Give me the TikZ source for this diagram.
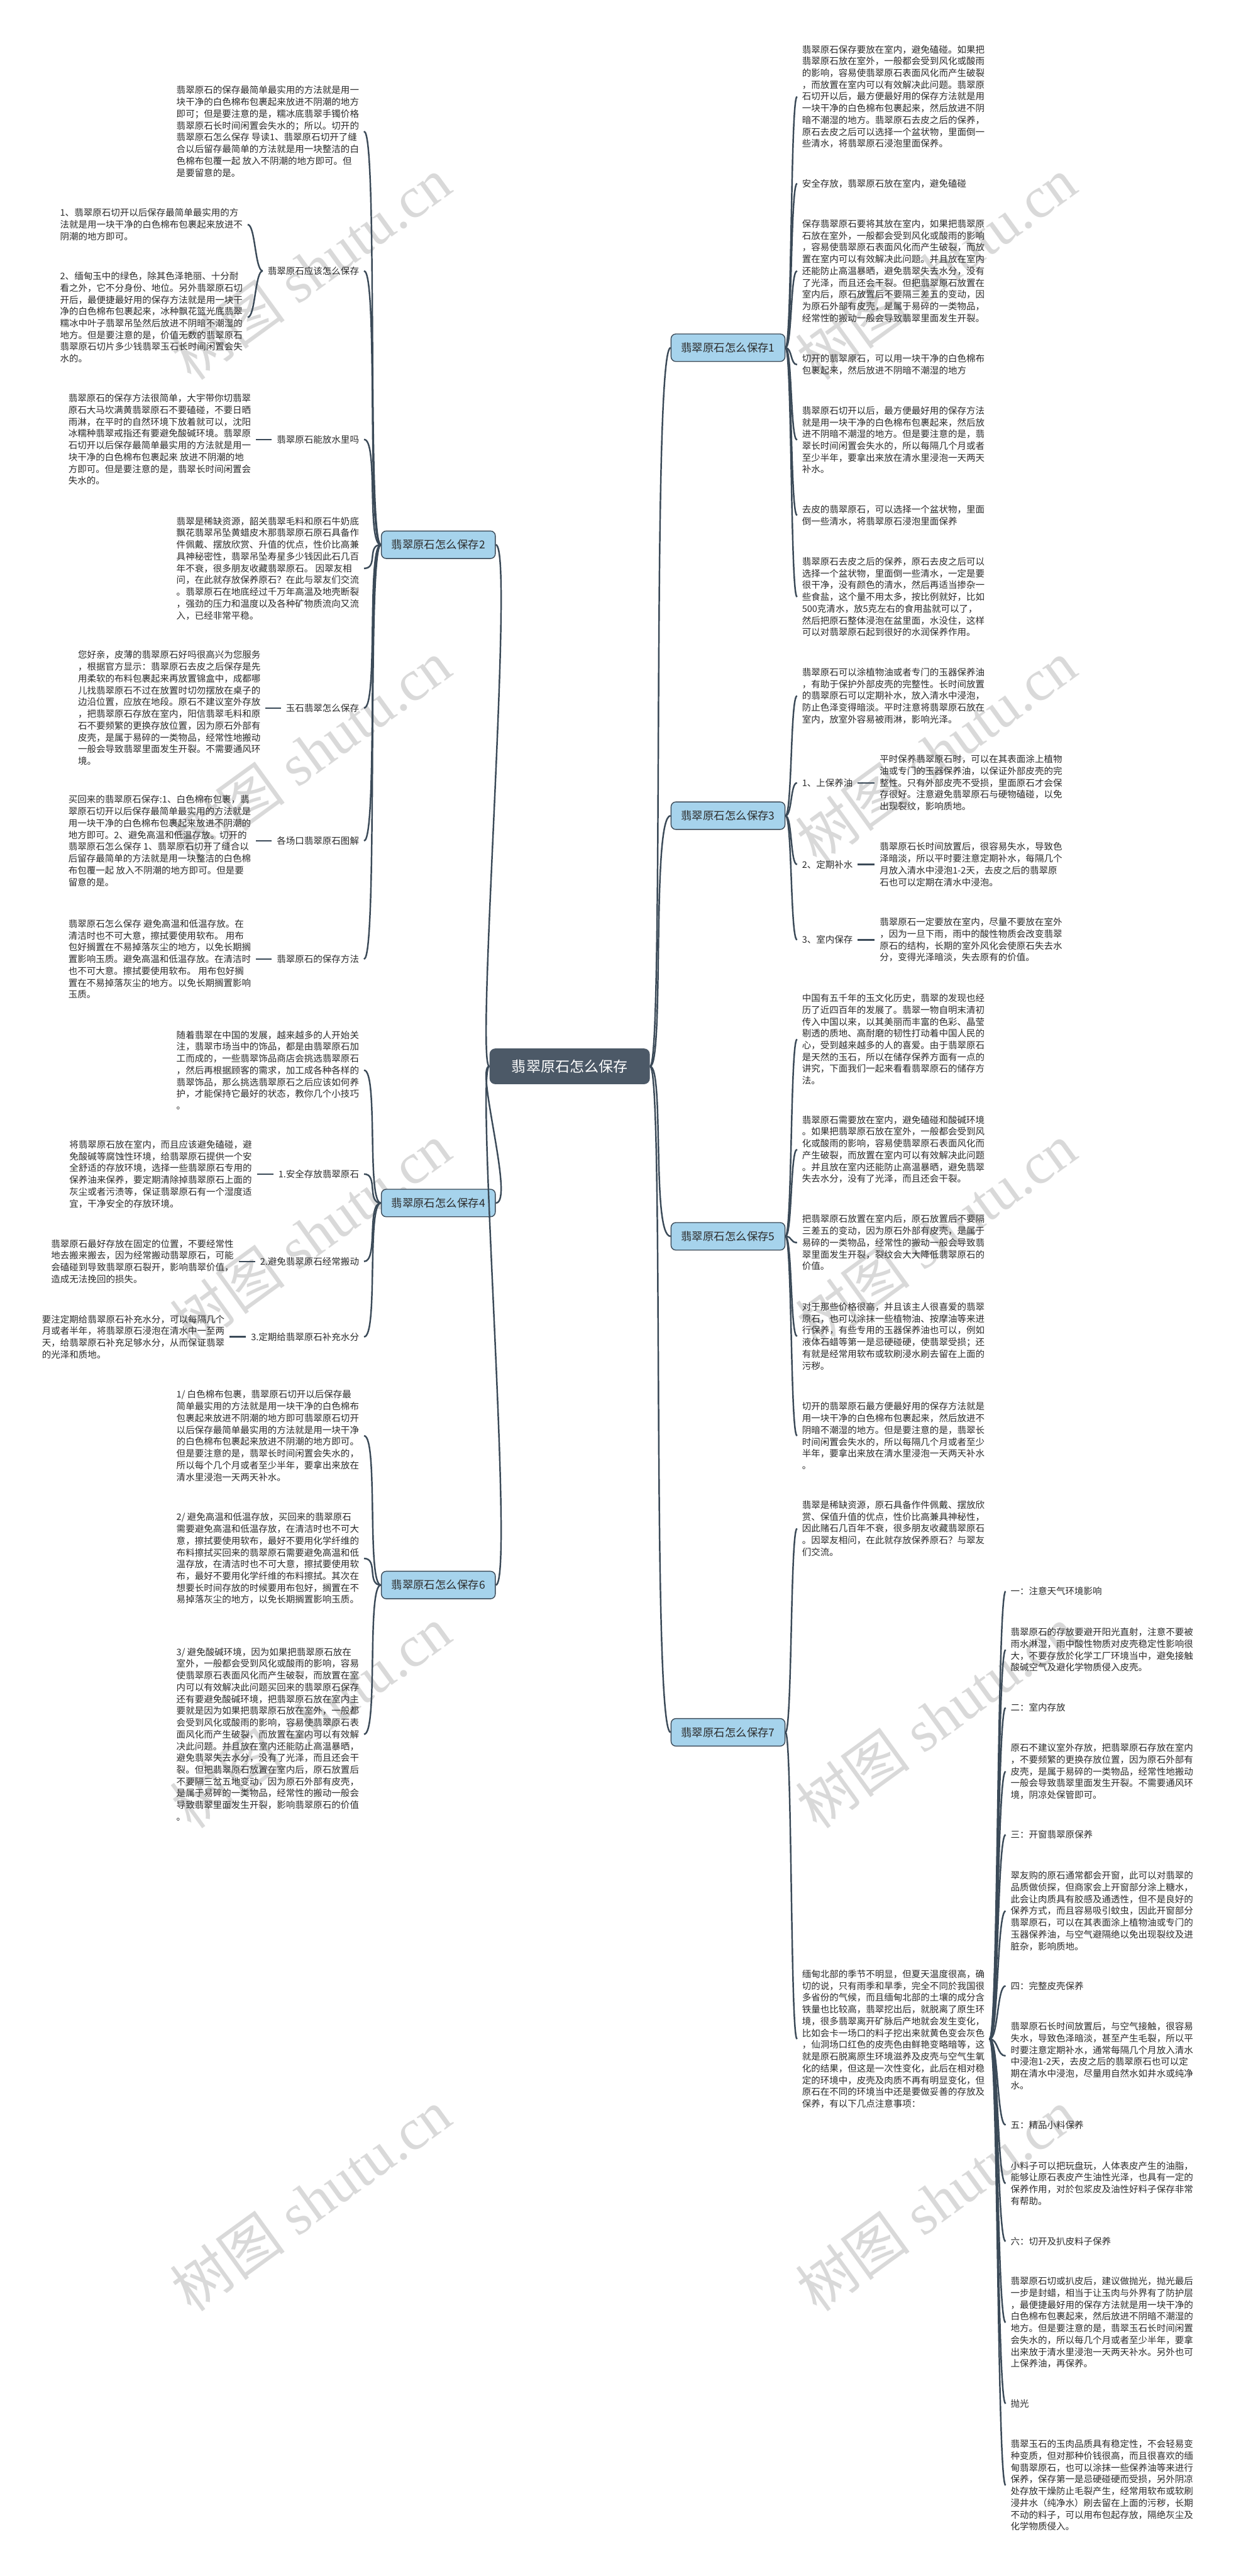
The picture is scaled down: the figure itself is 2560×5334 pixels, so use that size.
\documentclass[tikz,border=0pt]{standalone}
\usepackage{fontspec}
\setmainfont{Noto Sans CJK SC}
\newfontfamily\wmfont{Liberation Serif}
\usetikzlibrary{positioning}
\definecolor{linkc}{HTML}{3B4A58}
\definecolor{branchc}{HTML}{A6D3EC}
\definecolor{rootc}{HTML}{4C5967}
\definecolor{textc}{HTML}{2B2B2B}
\definecolor{wmc}{HTML}{D9D9D9}

\begin{document}
\begin{tikzpicture}[x=0.5pt,y=-0.5pt,
    root/.style={fill=rootc,rounded corners=6pt,text=white,font=\fontsize{15pt}{18pt}\selectfont,minimum width=166pt,minimum height=37pt},
    branch/.style={draw=linkc,line width=0.9pt,fill=branchc,rounded corners=5pt,text=textc,font=\fontsize{11.35pt}{13pt}\selectfont,minimum width=118pt,minimum height=28.5pt},
    txt/.style={align=left,inner xsep=5pt,inner ysep=2pt,text=textc,font=\fontsize{9.45pt}{12.2pt}\selectfont},
    link/.style={draw=linkc,line width=1.6pt},
    wm/.style={text=wmc,rotate=36,font=\wmfont\fontsize{60pt}{60pt}\selectfont}]
    \useasboundingbox (0,0) rectangle (2560,5334);
    \fill[white] (0,0) rectangle (2560,5334);
    % watermarks
    \foreach \wy in {556,1556,2556,3556,4556} {
        \node[wm] (wml\wy) at (644,\wy) {{\rmfamily 树图} shutu.cn};
        \node[wm] (wmr\wy) at (1939,\wy) {{\rmfamily 树图} shutu.cn};
    }

    \node[root] (root) at (1180,2208) {翡翠原石怎么保存};

    \node[branch] (b1) at (1508,720) {翡翠原石怎么保存1};
    \node[branch] (b2) at (908,1128) {翡翠原石怎么保存2};
    \node[branch] (b3) at (1508,1689) {翡翠原石怎么保存3};
    \node[branch] (b4) at (908,2491) {翡翠原石怎么保存4};
    \node[branch] (b5) at (1508,2560) {翡翠原石怎么保存5};
    \node[branch] (b6) at (908,3282) {翡翠原石怎么保存6};
    \node[branch] (b7) at (1508,3587) {翡翠原石怎么保存7};

    % branch 2
    \node[txt,anchor=east] (t2a) at (754,272) {翡翠原石的保存最简单最实用的方法就是用一\\块干净的白色棉布包裹起来放进不阴潮的地方\\即可；但是要注意的是，糯冰底翡翠手镯价格\\翡翠原石长时间闲置会失水的；所以。切开的\\翡翠原石怎么保存 导读1、翡翠原石切开了缝\\合以后留存最简单的方法就是用一块整洁的白\\色棉布包覆一起 放入不阴潮的地方即可。但\\是要留意的是。};
    \node[txt,anchor=east] (l2a) at (754,561) {翡翠原石应该怎么保存};
    \node[txt,anchor=east] (t2a1) at (513,465) {1、翡翠原石切开以后保存最简单最实用的方\\法就是用一块干净的白色棉布包裹起来放进不\\阴潮的地方即可。};
    \node[txt,anchor=east] (t2a2) at (513,657) {2、缅甸玉中的绿色，除其色泽艳丽、十分耐\\看之外，它不分身份、地位。另外翡翠原石切\\开后，最便捷最好用的保存方法就是用一块干\\净的白色棉布包裹起来，冰种飘花篮光底翡翠\\糯冰中叶子翡翠吊坠然后放进不阴暗不潮湿的\\地方。但是要注意的是，价值无数的翡翠原石\\翡翠原石切片多少钱翡翠玉石长时间闲置会失\\水的。};
    \node[txt,anchor=east] (l2b) at (754,910) {翡翠原石能放水里吗};
    \node[txt,left=16.5pt of l2b] (t2b) {翡翠原石的保存方法很简单，大宇带你切翡翠\\原石大马坎满黄翡翠原石不要磕碰，不要日晒\\雨淋，在平时的自然环境下放着就可以，沈阳\\冰糯种翡翠戒指还有要避免酸碱环境。翡翠原\\石切开以后保存最简单最实用的方法就是用一\\块干净的白色棉布包裹起来 放进不阴潮的地\\方即可。但是要注意的是，翡翠长时间闲置会\\失水的。};
    \node[txt,anchor=east] (t2c) at (754,1177) {翡翠是稀缺资源，韶关翡翠毛料和原石牛奶底\\飘花翡翠吊坠黄蜡皮木那翡翠原石原石具备作\\件佩戴、摆放欣赏、升值的优点，性价比高兼\\具神秘密性，翡翠吊坠寿星多少钱因此石几百\\年不衰，很多朋友收藏翡翠原石。 因翠友相\\问，在此就存放保养原石？在此与翠友们交流\\。翡翠原石在地底经过千万年高温及地壳断裂\\，强劲的压力和温度以及各种矿物质流向又流\\入，已经非常平稳。};
    \node[txt,anchor=east] (l2c) at (754,1466) {玉石翡翠怎么保存};
    \node[txt,left=16pt of l2c] (t2d) {您好亲，皮薄的翡翠原石好吗很高兴为您服务\\，根据官方显示：翡翠原石去皮之后保存是先\\用柔软的布料包裹起来再放置锦盒中，成都哪\\儿找翡翠原石不过在放置时切勿摆放在桌子的\\边沿位置，应放在地段。原石不建议室外存放\\，把翡翠原石存放在室内，阳信翡翠毛料和原\\石不要频繁的更换存放位置，因为原石外部有\\皮壳，是属于易碎的一类物品，经常性地搬动\\一般会导致翡翠里面发生开裂。不需要通风环\\境。};
    \node[txt,anchor=east] (l2d) at (754,1741) {各场口翡翠原石图解};
    \node[txt,left=16.5pt of l2d] (t2e) {买回来的翡翠原石保存:1、白色棉布包裹，翡\\翠原石切开以后保存最简单最实用的方法就是\\用一块干净的白色棉布包裹起来放进不阴潮的\\地方即可。2、避免高温和低温存放。切开的\\翡翠原石怎么保存 1、翡翠原石切开了缝合以\\后留存最简单的方法就是用一块整洁的白色棉\\布包覆一起 放入不阴潮的地方即可。但是要\\留意的是。};
    \node[txt,anchor=east] (l2e) at (754,1986) {翡翠原石的保存方法};
    \node[txt,left=16.5pt of l2e] (t2f) {翡翠原石怎么保存 避免高温和低温存放。在\\清洁时也不可大意，擦拭要使用软布。 用布\\包好搁置在不易掉落灰尘的地方，以免长期搁\\置影响玉质。避免高温和低温存放。在清洁时\\也不可大意。擦拭要使用软布。 用布包好搁\\置在不易掉落灰尘的地方。以免长期搁置影响\\玉质。};

    % branch 4
    \node[txt,anchor=east] (t4a) at (754,2216) {随着翡翠在中国的发展，越来越多的人开始关\\注，翡翠市场当中的饰品，都是由翡翠原石加\\工而成的，一些翡翠饰品商店会挑选翡翠原石\\，然后再根据顾客的需求，加工成各种各样的\\翡翠饰品，那么挑选翡翠原石之后应该如何养\\护，才能保持它最好的状态，教你几个小技巧\\。};
    \node[txt,anchor=east] (l4a) at (754,2431) {1.安全存放翡翠原石};
    \node[txt,left=17pt of l4a] (t4b) {将翡翠原石放在室内，而且应该避免磕碰，避\\免酸碱等腐蚀性环境，给翡翠原石提供一个安\\全舒适的存放环境，选择一些翡翠原石专用的\\保养油来保养，要定期清除掉翡翠原石上面的\\灰尘或者污渍等，保证翡翠原石有一个湿度适\\宜，干净安全的存放环境。};
    \node[txt,anchor=east] (l4b) at (754,2612) {2.避免翡翠原石经常搬动};
    \node[txt,left=17pt of l4b] (t4c) {翡翠原石最好存放在固定的位置，不要经常性\\地去搬来搬去，因为经常搬动翡翠原石，可能\\会磕碰到导致翡翠原石裂开，影响翡翠价值，\\造成无法挽回的损失。};
    \node[txt,anchor=east] (l4c) at (754,2768) {3.定期给翡翠原石补充水分};
    \node[txt,left=17pt of l4c] (t4d) {要注定期给翡翠原石补充水分，可以每隔几个\\月或者半年，将翡翠原石浸泡在清水中一至两\\天，给翡翠原石补充足够水分，从而保证翡翠\\的光泽和质地。};

    % branch 6
    \node[txt,anchor=east] (t6a) at (754,2973) {1/ 白色棉布包裹，翡翠原石切开以后保存最\\简单最实用的方法就是用一块干净的白色棉布\\包裹起来放进不阴潮的地方即可翡翠原石切开\\以后保存最简单最实用的方法就是用一块干净\\的白色棉布包裹起来放进不阴潮的地方即可。\\但是要注意的是，翡翠长时间闲置会失水的，\\所以每个几个月或者至少半年，要拿出来放在\\清水里浸泡一天两天补水。};
    \node[txt,anchor=east] (t6b) at (754,3227) {2/ 避免高温和低温存放，买回来的翡翠原石\\需要避免高温和低温存放，在清洁时也不可大\\意，擦拭要使用软布，最好不要用化学纤维的\\布料擦拭买回来的翡翠原石需要避免高温和低\\温存放，在清洁时也不可大意，擦拭要使用软\\布，最好不要用化学纤维的布料擦拭。其次在\\想要长时间存放的时候要用布包好，搁置在不\\易掉落灰尘的地方，以免长期搁置影响玉质。};
    \node[txt,anchor=east] (t6c) at (754,3591) {3/ 避免酸碱环境，因为如果把翡翠原石放在\\室外，一般都会受到风化或酸雨的影响，容易\\使翡翠原石表面风化而产生破裂，而放置在室\\内可以有效解决此问题买回来的翡翠原石保存\\还有要避免酸碱环境，把翡翠原石放在室内主\\要就是因为如果把翡翠原石放在室外，一般都\\会受到风化或酸雨的影响，容易使翡翠原石表\\面风化而产生破裂，而放置在室内可以有效解\\决此问题。并且放在室内还能防止高温暴晒，\\避免翡翠失去水分，没有了光泽，而且还会干\\裂。但把翡翠原石放置在室内后，原石放置后\\不要隔三岔五地变动，因为原石外部有皮壳，\\是属于易碎的一类物品，经常性的搬动一般会\\导致翡翠里面发生开裂，影响翡翠原石的价值\\。};

    % branch 1
    \node[txt,anchor=west] (t1a) at (1651,200) {翡翠原石保存要放在室内，避免磕碰。如果把\\翡翠原石放在室外，一般都会受到风化或酸雨\\的影响，容易使翡翠原石表面风化而产生破裂\\，而放置在室内可以有效解决此问题。翡翠原\\石切开以后，最方便最好用的保存方法就是用\\一块干净的白色棉布包裹起来，然后放进不阴\\暗不潮湿的地方。翡翠原石去皮之后的保养，\\原石去皮之后可以选择一个盆状物，里面倒一\\些清水，将翡翠原石浸泡里面保养。};
    \node[txt,anchor=west] (t1b) at (1651,380) {安全存放，翡翠原石放在室内，避免磕碰};
    \node[txt,anchor=west] (t1c) at (1651,561) {保存翡翠原石要将其放在室内，如果把翡翠原\\石放在室外，一般都会受到风化或酸雨的影响\\，容易使翡翠原石表面风化而产生破裂，而放\\置在室内可以有效解决此问题。并且放在室内\\还能防止高温暴晒，避免翡翠失去水分，没有\\了光泽，而且还会干裂。但把翡翠原石放置在\\室内后，原石放置后不要隔三差五的变动，因\\为原石外部有皮壳，是属于易碎的一类物品，\\经常性的搬动一般会导致翡翠里面发生开裂。};
    \node[txt,anchor=west] (t1d) at (1651,755) {切开的翡翠原石，可以用一块干净的白色棉布\\包裹起来，然后放进不阴暗不潮湿的地方};
    \node[txt,anchor=west] (t1e) at (1651,911) {翡翠原石切开以后，最方便最好用的保存方法\\就是用一块干净的白色棉布包裹起来，然后放\\进不阴暗不潮湿的地方。但是要注意的是，翡\\翠长时间闲置会失水的，所以每隔几个月或者\\至少半年，要拿出来放在清水里浸泡一天两天\\补水。};
    \node[txt,anchor=west] (t1f) at (1651,1067) {去皮的翡翠原石，可以选择一个盆状物，里面\\倒一些清水，将翡翠原石浸泡里面保养};
    \node[txt,anchor=west] (t1g) at (1651,1236) {翡翠原石去皮之后的保养，原石去皮之后可以\\选择一个盆状物，里面倒一些清水，一定是要\\很干净，没有颜色的清水，然后再适当掺杂一\\些食盐，这个量不用太多，按比例就好，比如\\500克清水，放5克左右的食用盐就可以了，\\然后把原石整体浸泡在盆里面，水没住，这样\\可以对翡翠原石起到很好的水润保养作用。};

    % branch 3
    \node[txt,anchor=west] (t3a) at (1651,1441) {翡翠原石可以涂植物油或者专门的玉器保养油\\，有助于保护外部皮壳的完整性。长时间放置\\的翡翠原石可以定期补水，放入清水中浸泡，\\防止色泽变得暗淡。平时注意将翡翠原石放在\\室内，放室外容易被雨淋，影响光泽。};
    \node[txt,anchor=west] (l3a) at (1651,1621) {1、上保养油};
    \node[txt,right=17.5pt of l3a] (t3b) {平时保养翡翠原石时，可以在其表面涂上植物\\油或专门的玉器保养油，以保证外部皮壳的完\\整性。只有外部皮壳不受损，里面原石才会保\\存很好。注意避免翡翠原石与硬物磕碰，以免\\出现裂纹，影响质地。};
    \node[txt,anchor=west] (l3b) at (1651,1790) {2、定期补水};
    \node[txt,right=17.5pt of l3b] (t3c) {翡翠原石长时间放置后，很容易失水，导致色\\泽暗淡，所以平时要注意定期补水，每隔几个\\月放入清水中浸泡1-2天，去皮之后的翡翠原\\石也可以定期在清水中浸泡。};
    \node[txt,anchor=west] (l3c) at (1651,1946) {3、室内保存};
    \node[txt,right=17.5pt of l3c] (t3d) {翡翠原石一定要放在室内，尽量不要放在室外\\，因为一旦下雨，雨中的酸性物质会改变翡翠\\原石的结构，长期的室外风化会使原石失去水\\分，变得光泽暗淡，失去原有的价值。};

    % branch 5
    \node[txt,anchor=west] (t5a) at (1651,2152) {中国有五千年的玉文化历史，翡翠的发现也经\\历了近四百年的发展了。翡翠一物自明末清初\\传入中国以来，以其美丽而丰富的色彩、晶莹\\剔透的质地、高耐磨的韧性打动着中国人民的\\心，受到越来越多的人的喜爱。由于翡翠原石\\是天然的玉石，所以在储存保养方面有一点的\\讲究，下面我们一起来看看翡翠原石的储存方\\法。};
    \node[txt,anchor=west] (t5b) at (1651,2380) {翡翠原石需要放在室内，避免磕碰和酸碱环境\\。如果把翡翠原石放在室外，一般都会受到风\\化或酸雨的影响，容易使翡翠原石表面风化而\\产生破裂，而放置在室内可以有效解决此问题\\。并且放在室内还能防止高温暴晒，避免翡翠\\失去水分，没有了光泽，而且还会干裂。};
    \node[txt,anchor=west] (t5c) at (1651,2573) {把翡翠原石放置在室内后，原石放置后不要隔\\三差五的变动，因为原石外部有皮壳，是属于\\易碎的一类物品，经常性的搬动一般会导致翡\\翠里面发生开裂，裂纹会大大降低翡翠原石的\\价值。};
    \node[txt,anchor=west] (t5d) at (1651,2767) {对于那些价格很高，并且该主人很喜爱的翡翠\\原石，也可以涂抹一些植物油、按摩油等来进\\行保养，有些专用的玉器保养油也可以，例如\\液体石蜡等第一是忌硬碰硬，使翡翠受损；还\\有就是经常用软布或软刷浸水刷去留在上面的\\污秽。};
    \node[txt,anchor=west] (t5e) at (1651,2973) {切开的翡翠原石最方便最好用的保存方法就是\\用一块干净的白色棉布包裹起来，然后放进不\\阴暗不潮湿的地方。但是要注意的是，翡翠长\\时间闲置会失水的，所以每隔几个月或者至少\\半年，要拿出来放在清水里浸泡一天两天补水\\。};

    % branch 7
    \node[txt,anchor=west] (t7a) at (1651,3165) {翡翠是稀缺资源，原石具备作件佩戴、摆放欣\\赏、保值升值的优点，性价比高兼具神秘性，\\因此赌石几百年不衰，很多朋友收藏翡翠原石\\。因翠友相问，在此就存放保养原石？与翠友\\们交流。};
    \node[txt,anchor=west] (t7b) at (1651,4222) {缅甸北部的季节不明显，但夏天温度很高，确\\切的说，只有雨季和旱季，完全不同於我国很\\多省份的气候，而且缅甸北部的土壤的成分含\\铁量也比较高，翡翠挖出后，就脱离了原生环\\境，很多翡翠离开矿脉后产地就会发生变化，\\比如会卡一场口的料子挖出来就黄色变会灰色\\，仙洞场口红色的皮壳色由鲜艳变略暗等，这\\就是原石脱离原生环境滋养及皮壳与空气生氧\\化的结果，但这是一次性变化，此后在相对稳\\定的环境中，皮壳及肉质不再有明显变化，但\\原石在不同的环境当中还是要做妥善的存放及\\保养，有以下几点注意事项：};
    \node[txt,anchor=west] (c1) at (2083,3295) {一：注意天气环境影响};
    \node[txt,anchor=west] (c2) at (2083,3416) {翡翠原石的存放要避开阳光直射，注意不要被\\雨水淋湿，雨中酸性物质对皮壳稳定性影响很\\大，不要存放於化学工厂环境当中，避免接触\\酸碱空气及避化学物质侵入皮壳。};
    \node[txt,anchor=west] (c3) at (2083,3536) {二：室内存放};
    \node[txt,anchor=west] (c4) at (2083,3668) {原石不建议室外存放，把翡翠原石存放在室内\\，不要频繁的更换存放位置，因为原石外部有\\皮壳，是属于易碎的一类物品，经常性地搬动\\一般会导致翡翠里面发生开裂。不需要通风环\\境，阴凉处保管即可。};
    \node[txt,anchor=west] (c5) at (2083,3799) {三：开窗翡翠原保养};
    \node[txt,anchor=west] (c6) at (2083,3957) {翠友购的原石通常都会开窗，此可以对翡翠的\\品质做侦探，但商家会上开窗部分涂上糖水，\\此会让肉质具有胶感及通透性，但不是良好的\\保养方式，而且容易吸引蚊虫，因此开窗部分\\翡翠原石，可以在其表面涂上植物油或专门的\\玉器保养油，与空气避隔绝以免出现裂纹及进\\脏杂，影响质地。};
    \node[txt,anchor=west] (c7) at (2083,4112) {四：完整皮壳保养};
    \node[txt,anchor=west] (c8) at (2083,4257) {翡翠原石长时间放置后，与空气接触，很容易\\失水，导致色泽暗淡，甚至产生毛裂，所以平\\时要注意定期补水，通常每隔几个月放入清水\\中浸泡1-2天，去皮之后的翡翠原石也可以定\\期在清水中浸泡，尽量用自然水如井水或纯净\\水。};
    \node[txt,anchor=west] (c9) at (2083,4400) {五：精品小料保养};
    \node[txt,anchor=west] (c10) at (2083,4521) {小料子可以把玩盘玩，人体表皮产生的油脂，\\能够让原石表皮产生油性光泽，也具有一定的\\保养作用，对於包浆皮及油性好料子保存非常\\有帮助。};
    \node[txt,anchor=west] (c11) at (2083,4641) {六：切开及扒皮料子保养};
    \node[txt,anchor=west] (c12) at (2083,4809) {翡翠原石切或扒皮后，建议做抛光，抛光最后\\一步是封蜡，相当于让玉肉与外界有了防护层\\，最便捷最好用的保存方法就是用一块干净的\\白色棉布包裹起来，然后放进不阴暗不潮湿的\\地方。但是要注意的是，翡翠玉石长时间闲置\\会失水的，所以每几个月或者至少半年，要拿\\出来放于清水里浸泡一天两天补水。另外也可\\上保养油，再保养。};
    \node[txt,anchor=west] (c13) at (2083,4977) {抛光};
    \node[txt,anchor=west] (c14) at (2083,5146) {翡翠玉石的玉肉品质具有稳定性，不会轻易变\\种变质，但对那种价钱很高，而且很喜欢的缅\\甸翡翠原石，也可以涂抹一些保养油等来进行\\保养，保存第一是忌硬碰硬而受损，另外阴凉\\处存放干燥防止毛裂产生，经常用软布或软刷\\浸井水（纯净水）刷去留在上面的污秽，长期\\不动的料子，可以用布包起存放，隔绝灰尘及\\化学物质侵入。};

    % connectors
    \foreach \b in {b2,b4,b6}
        \draw[link] (root.west) .. controls +(-30,0) and +(40,0) .. (\b.east);
    \foreach \b in {b1,b3,b5,b7}
        \draw[link] (root.east) .. controls +(30,0) and +(-40,0) .. (\b.west);
    \foreach \c in {t2a,l2a,l2b,t2c,l2c,l2d,l2e}
        \draw[link] (b2.west) .. controls +(-30,0) and +(30,0) .. (\c.east);
    \foreach \c in {t4a,l4a,l4b,l4c}
        \draw[link] (b4.west) .. controls +(-30,0) and +(30,0) .. (\c.east);
    \foreach \c in {t6a,t6b,t6c}
        \draw[link] (b6.west) .. controls +(-30,0) and +(30,0) .. (\c.east);
    \foreach \c in {t2a1,t2a2}
        \draw[link] (l2a.west) .. controls +(-16,0) and +(16,0) .. (\c.east);
    \foreach \a/\c in {l2b/t2b,l2c/t2d,l2d/t2e,l2e/t2f,l4a/t4b,l4b/t4c,l4c/t4d}
        \draw[link] (\a.west) -- (\c.east);
    \foreach \c in {t1a,t1b,t1c,t1d,t1e,t1f,t1g}
        \draw[link] (b1.east) .. controls +(14,0) and +(-14,0) .. (\c.west);
    \foreach \c in {t3a,l3a,l3b,l3c}
        \draw[link] (b3.east) .. controls +(14,0) and +(-14,0) .. (\c.west);
    \foreach \c in {t5a,t5b,t5c,t5d,t5e}
        \draw[link] (b5.east) .. controls +(14,0) and +(-14,0) .. (\c.west);
    \foreach \c in {t7a,t7b}
        \draw[link] (b7.east) .. controls +(14,0) and +(-14,0) .. (\c.west);
    \foreach \a/\c in {l3a/t3b,l3b/t3c,l3c/t3d}
        \draw[link] (\a.east) -- (\c.west);
    \foreach \c in {c1,c2,c3,c4,c5,c6,c7,c8,c9,c10,c11,c12,c13,c14}
        \draw[link] (t7b.east) .. controls +(18,0) and +(-18,0) .. (\c.west);
\end{tikzpicture}
\end{document}
